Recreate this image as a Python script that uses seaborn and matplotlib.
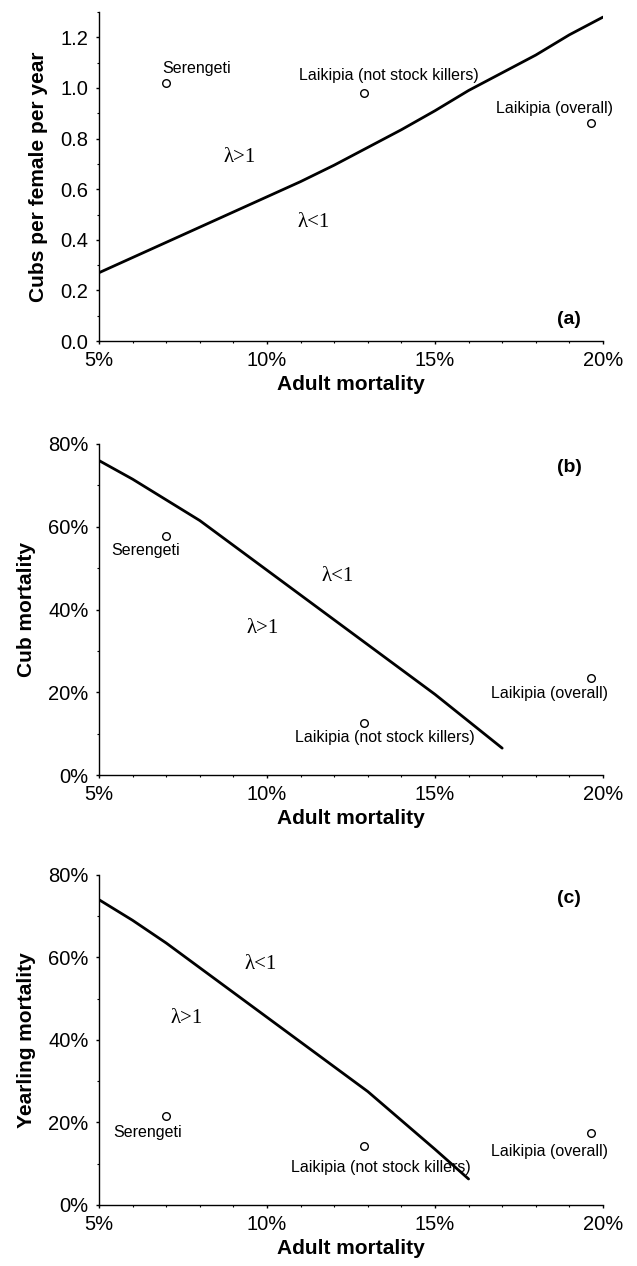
import numpy as np
import pandas as pd
import matplotlib
matplotlib.use('Agg')
import matplotlib.pyplot as plt
from matplotlib.ticker import MultipleLocator, FuncFormatter
import seaborn as sns

# threshold curves (lambda = 1), adult mortality in %
adult_a = [5, 6, 7, 8, 9, 10, 11, 12, 13, 14, 15, 16, 17, 18, 19, 20]
cubs_a = [0.27, 0.33, 0.39, 0.45, 0.51, 0.57, 0.63, 0.695, 0.765, 0.835, 0.91, 0.99, 1.06, 1.13, 1.21, 1.28]

adult_b = [5, 6, 7, 8, 9, 10, 11, 12, 13, 14, 15, 16, 17]
cubmort_b = [76, 71.5, 66.5, 61.5, 55.5, 49.5, 43.5, 37.5, 31.5, 25.5, 19.5, 13, 6.5]

adult_c = [5, 6, 7, 8, 9, 10, 11, 12, 13, 14, 15, 16]
yearmort_c = [74, 69, 63.5, 57.5, 51.5, 45.5, 39.5, 33.5, 27.5, 20.5, 13.5, 6.3]

# observed populations
sites = ['Serengeti', 'Laikipia (not stock killers)', 'Laikipia (overall)']
site_adult = [7.0, 12.9, 19.63]
site_cubs = [1.02, 0.98, 0.86]
site_cubmort = [57.8, 12.6, 23.5]
site_yearmort = [21.6, 14.3, 17.4]

sns.set_theme(style='ticks')
plt.rcParams['font.family'] = ['Liberation Sans', 'DejaVu Sans']
plt.rcParams.update({'text.color': 'black', 'axes.labelcolor': 'black',
                     'xtick.color': 'black', 'ytick.color': 'black'})

fig = plt.figure(figsize=(6.37, 12.66), dpi=100)
axes = [fig.add_axes([0.1554, 0.7306, 0.7912, 0.2599]),
        fig.add_axes([0.1554, 0.3878, 0.7912, 0.2615]),
        fig.add_axes([0.1554, 0.0482, 0.7912, 0.2607])]

pct = FuncFormatter(lambda v, p: f'{v:.0f}%')
serif = ['Liberation Serif', 'DejaVu Serif']

# (ylabel, tag, tag y, site label positions (x, y, ha), lambda labels)
panels = [
    (adult_a, cubs_a, site_cubs, 'Cubs per female per year', '(a)', 0.087,
     [(6.88, 1.075, 'left'), (13.62, 1.05, 'center'), (18.55, 0.92, 'center')],
     [(9.2, 0.725, 'λ>1'), (11.4, 0.47, 'λ<1')]),
    (adult_b, cubmort_b, site_cubmort, 'Cub mortality', '(b)', 74.3,
     [(6.4, 54.2, 'center'), (13.5, 9.0, 'center'), (18.4, 19.6, 'center')],
     [(12.1, 48, 'λ<1'), (9.86, 35.3, 'λ>1')]),
    (adult_c, yearmort_c, site_yearmort, 'Yearling mortality', '(c)', 74.4,
     [(6.45, 17.5, 'center'), (13.4, 9.2, 'center'), (18.4, 12.9, 'center')],
     [(9.8, 58.2, 'λ<1'), (7.6, 45.3, 'λ>1')]),
]

for i, (ax, (cx, cy, sy, ylab, tag, tagy, labpos, lams)) in enumerate(zip(axes, panels)):
    curve = pd.DataFrame({'adult': cx, 'y': cy})
    sns.lineplot(data=curve, x='adult', y='y', color='black', linewidth=2.0, ax=ax)
    pts = pd.DataFrame({'adult': site_adult, 'y': sy})
    sns.scatterplot(data=pts, x='adult', y='y', marker='o', s=30, facecolor='white',
                    edgecolor='black', linewidth=1.0, ax=ax, zorder=3)

    for name, (lx, ly, ha) in zip(sites, labpos):
        ax.text(lx, ly, name, ha=ha, va='center', fontsize=11.5)
    for lx, ly, t in lams:
        ax.text(lx, ly, t, ha='center', va='center', fontsize=15, family=serif)
    ax.text(19.0, tagy, tag, ha='center', va='center', fontsize=14, fontweight='bold')

    ax.set_xlim(5, 20)
    ax.xaxis.set_major_locator(MultipleLocator(5))
    ax.xaxis.set_minor_locator(MultipleLocator(1))
    ax.xaxis.set_major_formatter(pct)
    if i == 0:
        ax.set_ylim(0, 1.3)
        ax.yaxis.set_major_locator(MultipleLocator(0.2))
        ax.yaxis.set_minor_locator(MultipleLocator(0.1))
        ax.yaxis.set_major_formatter(FuncFormatter(lambda v, p: f'{v:.1f}'))
    else:
        ax.set_ylim(0, 80)
        ax.yaxis.set_major_locator(MultipleLocator(20))
        ax.yaxis.set_minor_locator(MultipleLocator(10))
        ax.yaxis.set_major_formatter(pct)

    ax.set_xlabel('Adult mortality', fontsize=15, fontweight='bold', labelpad=3)
    ax.set_ylabel(ylab, fontsize=15, fontweight='bold', labelpad=9)
    ax.tick_params(which='major', length=2.5, width=1, labelsize=14.5, pad=5, color='black')
    ax.tick_params(which='minor', length=1.5, width=0.8, color='black')
    sns.despine(ax=ax)
    for s in ['left', 'bottom']:
        ax.spines[s].set_color('black')
        ax.spines[s].set_linewidth(1)

fig.savefig('out.png', dpi=100, facecolor='white')
